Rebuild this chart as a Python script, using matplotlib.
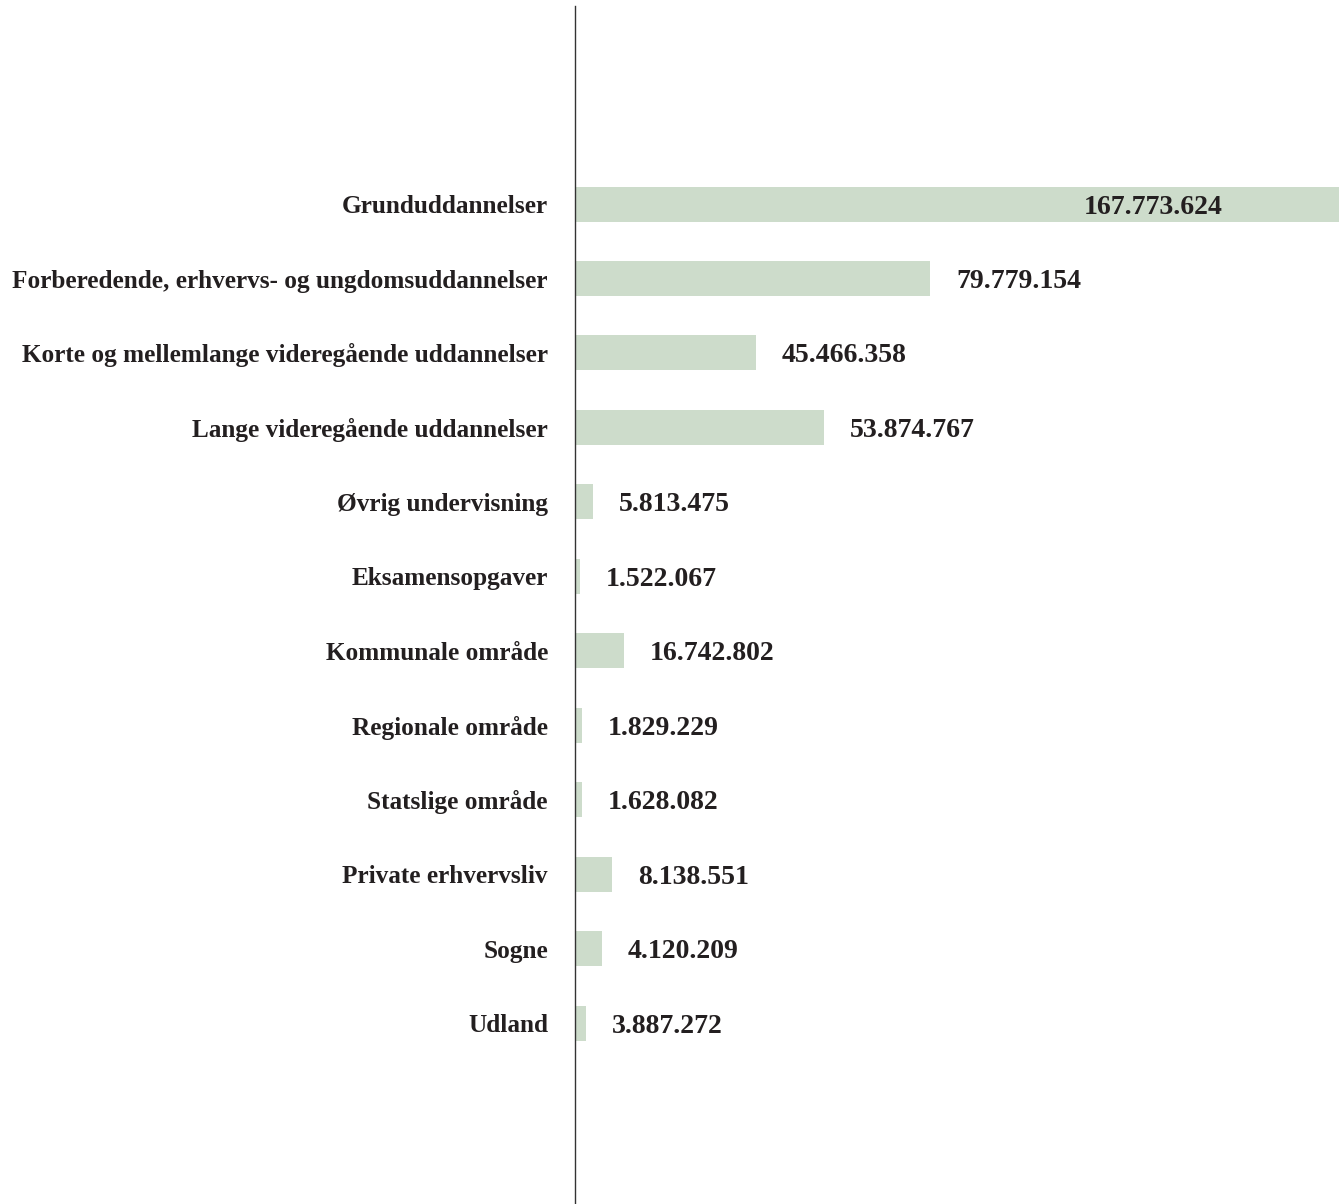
import matplotlib.pyplot as plt

categories = [
    "Grunduddannelser",
    "Forberedende, erhvervs- og ungdomsuddannelser",
    "Korte og mellemlange videregående uddannelser",
    "Lange videregående uddannelser",
    "Øvrig undervisning",
    "Eksamensopgaver",
    "Kommunale område",
    "Regionale område",
    "Statslige område",
    "Private erhvervsliv",
    "Sogne",
    "Udland",
]
# printed values
values = [167773624, 79779154, 45466358, 53874767, 5813475, 1522067,
          16742802, 1829229, 1628082, 8138551, 4120209, 3887272]
# bar lengths as drawn in the original (mio.), they do not follow the labels exactly
bar_lengths = [167.77, 77.96, 39.75, 54.68, 3.95, 1.10,
               10.76, 1.54, 1.54, 8.13, 5.93, 2.42]

BAR_COLOR = "#cddccb"
TEXT_COLOR = "#231f20"
FONT = ["Liberation Serif", "DejaVu Serif"]

W, H, DPI = 1344, 1204, 100
fig = plt.figure(figsize=(W / DPI, H / DPI), dpi=DPI)
ax = fig.add_axes([575 / W, 0, (W - 575) / W, (H - 6) / H])

ypos = list(range(len(categories)))
ax.barh(ypos, bar_lengths, height=0.47, color=BAR_COLOR, zorder=1)

bmax = max(bar_lengths)
ax.set_xlim(0, bmax * (W - 575) / (1339 - 575))
ax.set_ylim(len(categories) - 1 + 2.43, -2.66)

def fmt(v):
    return f"{v:,}".replace(",", ".")

for y, b, v in zip(ypos, bar_lengths, values):
    if b == bmax:
        # no room to the right, put it inside the bar
        ax.annotate(fmt(v), (b, y), xytext=(-83.5, 0), textcoords="offset points",
                    ha="right", va="center_baseline", fontsize=20, fontweight="bold",
                    family=FONT, color=TEXT_COLOR)
    else:
        ax.annotate(fmt(v), (b, y), xytext=(18.7, 0), textcoords="offset points",
                    ha="left", va="center_baseline", fontsize=20, fontweight="bold",
                    family=FONT, color=TEXT_COLOR)

ax.set_yticks(ypos)
ax.set_yticklabels(categories, fontsize=18.2, fontweight="bold", family=FONT,
                   color=TEXT_COLOR)
ax.tick_params(axis="y", length=0, pad=19.5)
ax.set_xticks([])

for s in ["top", "right", "bottom"]:
    ax.spines[s].set_visible(False)
ax.spines["left"].set_color("#333333")
ax.spines["left"].set_linewidth(1.0)

fig.savefig("out.png", dpi=DPI)
